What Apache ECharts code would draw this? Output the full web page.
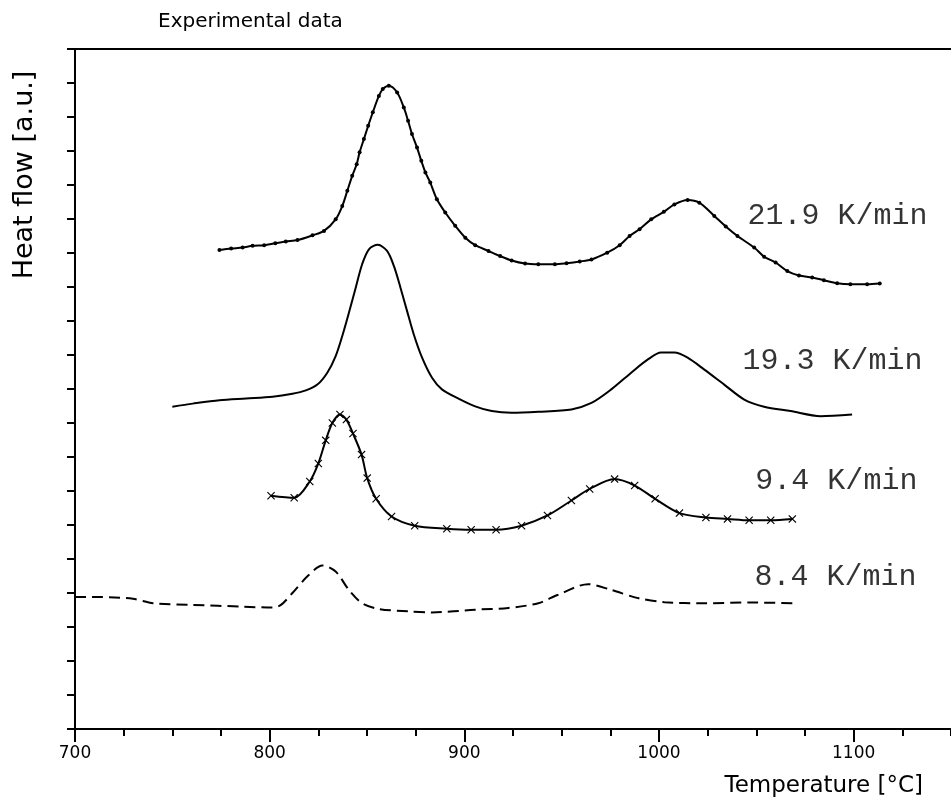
<!DOCTYPE html>
<html><head><meta charset="utf-8">
<script src="https://cdn.jsdelivr.net/npm/echarts@6/dist/echarts.min.js"></script>
<style>html,body{margin:0;padding:0;background:#fff}#c{width:951px;height:799px}</style>
</head><body><div id="c"></div>
<script>
// Heating-rate curves: [temperature °C, heat flow (a.u.)]
const rate219 = [[774.2,14.09],[780.2,14.13],[786.1,14.16],[791.2,14.21],[797.2,14.23],[802.9,14.29],[808.3,14.34],[814.3,14.38],[822.0,14.52],[827.9,14.65],[833.9,14.99],[837.3,15.38],[839.9,15.83],[842.4,16.27],[844.7,16.61],[846.2,16.96],[848.4,17.35],[850.6,17.74],[853.0,18.14],[856.1,18.62],[858.1,18.82],[861.2,18.92],[865.5,18.72],[868.9,18.28],[871.1,17.89],[873.1,17.50],[875.7,17.10],[877.9,16.71],[880.0,16.37],[882.5,16.07],[885.9,15.58],[890.2,15.19],[895.3,14.80],[900.5,14.45],[905.6,14.23],[912.4,14.06],[918.4,13.91],[924.3,13.78],[931.2,13.69],[938.0,13.67],[946.5,13.67],[952.5,13.70],[959.3,13.75],[965.3,13.81],[973.4,14.01],[979.8,14.23],[984.9,14.50],[990.0,14.70],[996.0,14.99],[1002.5,15.21],[1007.9,15.43],[1014.7,15.56],[1020.7,15.48],[1028.4,15.09],[1034.3,14.78],[1040.3,14.50],[1048.9,14.16],[1054.0,13.89],[1059.9,13.72],[1065.9,13.47],[1071.9,13.34],[1078.7,13.28],[1084.7,13.20],[1091.5,13.11],[1098.3,13.08],[1106.9,13.08],[1113.4,13.10]];
const rate193 = [[750.0,9.48],[760.5,9.57],[774.2,9.67],[787.9,9.72],[801.5,9.77],[811.7,9.86],[818.6,9.96],[824.5,10.13],[829.6,10.48],[833.9,10.97],[837.3,11.56],[840.7,12.24],[844.2,12.98],[847.5,13.67],[851.0,14.11],[855.6,14.24],[860.3,14.06],[863.8,13.62],[867.2,12.98],[870.6,12.29],[874.0,11.61],[878.3,10.92],[883.4,10.33],[888.5,9.99],[897.0,9.72],[905.6,9.49],[914.1,9.35],[924.3,9.30],[938.0,9.33],[955.0,9.40],[965.3,9.59],[975.5,9.99],[985.7,10.48],[994.3,10.87],[1001.1,11.07],[1007.9,11.07],[1014.7,10.92],[1023.3,10.57],[1033.5,10.13],[1043.8,9.69],[1054.0,9.48],[1067.6,9.35],[1083.0,9.20],[1099.2,9.25]];
const rate94 = [[800.7,6.86],[812.6,6.80],[820.6,7.28],[825.0,7.81],[828.8,8.49],[832.2,9.00],[836.1,9.25],[839.4,9.10],[842.8,8.69],[847.2,8.07],[850.1,7.38],[854.7,6.77],[862.6,6.25],[874.5,5.98],[891.0,5.89],[903.5,5.86],[916.3,5.86],[929.4,5.98],[942.7,6.28],[955.0,6.72],[964.4,7.06],[977.2,7.35],[987.5,7.16],[998.0,6.77],[1010.5,6.35],[1024.1,6.22],[1035.2,6.18],[1046.3,6.14],[1057.4,6.14],[1068.5,6.18]];
const rate84 = [[700,3.88],[712.8,3.88],[729.8,3.83],[740.1,3.70],[760.5,3.65],[786.1,3.60],[801.5,3.57],[805.8,3.65],[811.7,4.00],[819.4,4.49],[827.1,4.81],[833.9,4.63],[840.7,4.09],[847.5,3.70],[856.1,3.53],[871.4,3.46],[883.4,3.43],[905.6,3.51],[922.6,3.56],[938.0,3.70],[948.2,3.95],[963.6,4.26],[975.5,4.09],[989.2,3.85],[1002.8,3.73],[1023.3,3.70],[1047.1,3.72],[1068.5,3.70]];
// Curve labels (text, anchor temperature, anchor heat flow)
const labelNames = ['21.9 K/min','19.3 K/min','9.4 K/min','8.4 K/min'];
const labelX = [1045.4,1042.9,1049.5,1049.0];
const labelY = [15.08,10.81,7.28,4.48];
// Axis ticks
const xLabelTicks = [700,800,900,1000,1100];

const chart = echarts.init(document.getElementById('c'), null, {renderer:'canvas'});
const black = '#000';
const sans = 'DejaVu Sans';
const crossPath = 'path://M0,1L1,0L5,4L9,0L10,1L6,5L10,9L9,10L5,6L1,10L0,9L4,5Z';
const lineBase = {type:'line', smooth:0.3, xAxisIndex:0, yAxisIndex:0,
  lineStyle:{color:black, width:2}, itemStyle:{color:black}, animation:false, z:3};

chart.setOption({
  animation:false,
  backgroundColor:'#fff',
  grid:{left:75, right:-3, top:49, bottom:70, containLabel:false},
  xAxis:[
    {type:'value', min:700, max:1150, interval:100, position:'bottom',
     axisLine:{show:true, lineStyle:{color:black, width:2}},
     axisTick:{show:true, inside:false, length:13, lineStyle:{color:black, width:2}},
     axisLabel:{show:true, margin:16, color:black, fontFamily:sans, fontSize:17, showMaxLabel:false,
       formatter:v => xLabelTicks.includes(v) ? String(v) : ''},
     splitLine:{show:false}},
    {type:'value', min:700, max:1150, interval:25, position:'bottom',
     axisLine:{show:false}, axisTick:{show:true, length:7, lineStyle:{color:black, width:2}},
     axisLabel:{show:false}, splitLine:{show:false}},
    {type:'value', min:700, max:1150, position:'top',
     axisLine:{show:true, lineStyle:{color:black, width:2}}, axisTick:{show:false},
     axisLabel:{show:false}, splitLine:{show:false}}
  ],
  yAxis:[{type:'value', min:0, max:20, interval:1,
    axisLine:{show:true, lineStyle:{color:black, width:2}},
    axisTick:{show:true, length:8, lineStyle:{color:black, width:2}},
    axisLabel:{show:false}, splitLine:{show:false}}],
  series:[
    Object.assign({}, lineBase, {name:'21.9', data:rate219, symbol:'circle', symbolSize:4, showSymbol:true}),
    Object.assign({}, lineBase, {name:'19.3', data:rate193, symbol:'none'}),
    Object.assign({}, lineBase, {name:'9.4', data:rate94, symbol:crossPath, symbolSize:8, showSymbol:true}),
    Object.assign({}, lineBase, {name:'8.4', data:rate84, symbol:'none',
      lineStyle:{color:black, width:2, type:[11,6]}}),
    {type:'scatter', symbolSize:0, animation:false, silent:true,
     data:labelNames.map((n,i)=>({name:n, value:[labelX[i], labelY[i]]})),
     label:{show:true, position:'right', distance:0, formatter:p=>p.name,
       color:'#000', fontFamily:'Liberation Mono', fontSize:30}}
  ],
  graphic:[
    {type:'text', x:158, y:22,
     style:{text:'Experimental data', fill:black, fontFamily:sans, fontSize:20, textAlign:'left', textVerticalAlign:'middle'}},
    {type:'text', x:25, y:175, rotation:Math.PI/2,
     style:{text:'Heat flow [a.u.]', fill:black, fontFamily:sans, fontSize:27, textAlign:'center', textVerticalAlign:'middle'}},
    {type:'text', x:923, y:786,
     style:{text:'Temperature [°C]', fill:black, fontFamily:sans, fontSize:23, textAlign:'right', textVerticalAlign:'middle'}}
  ]
});
</script></body></html>
